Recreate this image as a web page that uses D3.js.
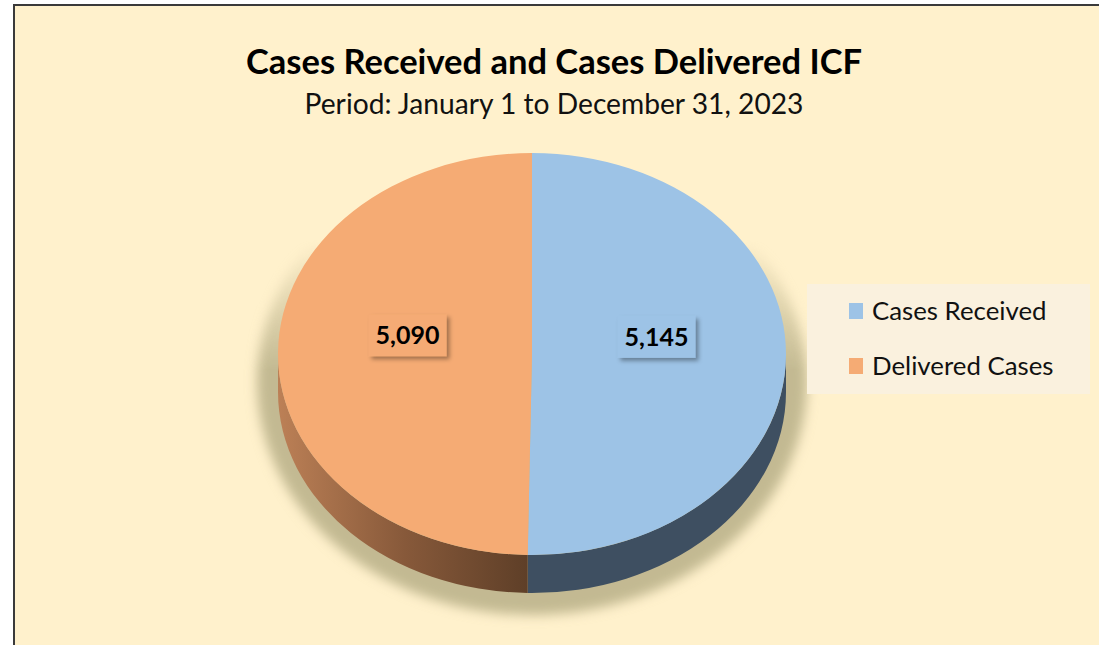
<!DOCTYPE html>
<html>
<head>
<meta charset="utf-8">
<script src="https://cdn.jsdelivr.net/npm/d3@7"></script>
<style>
  body { margin: 0; background: #fff; }
  svg text { font-family: Lato, "Open Sans", sans-serif; }
</style>
</head>
<body>
<svg id="chart" width="1099" height="645"></svg>
<script>
const categories = ["Cases Received", "Delivered Cases"];
const values = [5145, 5090];
const titleText = "Cases Received and Cases Delivered ICF";
const subtitleText = "Period: January 1 to December 31, 2023";

const svg = d3.select("#chart");
const topColor = d3.scaleOrdinal().domain(categories).range(["#9DC3E6", "#F5AB74"]);

// pie geometry (ellipse seen in 3d)
const cx = 532, cy = 354, rx = 254, ry = 201, depth = 38;
const pt = (a, dy = 0) => [cx + rx * Math.sin(a), cy - ry * Math.cos(a) + dy];

const defs = svg.append("defs");

const blur = defs.append("filter").attr("id", "blur")
    .attr("x", "-20%").attr("y", "-20%").attr("width", "140%").attr("height", "140%");
blur.append("feGaussianBlur").attr("stdDeviation", 6);

const fade = defs.append("linearGradient").attr("id", "fade")
    .attr("gradientUnits", "userSpaceOnUse")
    .attr("x1", 0).attr("y1", 240).attr("x2", 0).attr("y2", 370);
fade.append("stop").attr("offset", 0).attr("stop-color", "#fff").attr("stop-opacity", 0);
fade.append("stop").attr("offset", 1).attr("stop-color", "#fff").attr("stop-opacity", 1);
defs.append("mask").attr("id", "fadeMask")
    .append("rect").attr("width", 1099).attr("height", 645).attr("fill", "url(#fade)");

const sideOrange = defs.append("linearGradient").attr("id", "sideOrange")
    .attr("gradientUnits", "userSpaceOnUse")
    .attr("x1", cx - rx).attr("y1", 0).attr("x2", cx).attr("y2", 0);
sideOrange.append("stop").attr("offset", 0).attr("stop-color", "#BC8056");
sideOrange.append("stop").attr("offset", 0.5).attr("stop-color", "#87593A");
sideOrange.append("stop").attr("offset", 1).attr("stop-color", "#5D3E27");

const boxShadow = defs.append("filter").attr("id", "boxShadow")
    .attr("x", "-20%").attr("y", "-30%").attr("width", "150%").attr("height", "170%");
boxShadow.append("feDropShadow").attr("dx", 3).attr("dy", 3)
    .attr("stdDeviation", 2).attr("flood-color", "#000").attr("flood-opacity", 0.35);

// background + frame
svg.append("rect").attr("x", 14).attr("y", 5).attr("width", 1100).attr("height", 660)
    .attr("fill", "#FFF1CC").attr("stroke", "#3a3a3a").attr("stroke-width", 2);

// titles
svg.append("text").attr("x", 554).attr("y", 74).attr("text-anchor", "middle")
    .attr("font-size", 34.5).attr("font-weight", 700).attr("fill", "#000").text(titleText);
svg.append("text").attr("x", 554).attr("y", 114).attr("text-anchor", "middle")
    .attr("font-size", 28.2).attr("fill", "#111").text(subtitleText);

// shadow under pie
svg.append("ellipse").attr("cx", cx).attr("cy", cy + 28).attr("rx", rx + 21).attr("ry", ry + 32)
    .attr("fill", "#C3B992").attr("filter", "url(#blur)").attr("mask", "url(#fadeMask)");

const pie = d3.pie().sort(null).value(d => d.value).startAngle(0).endAngle(2 * Math.PI);
const arcs = pie(categories.map((c, i) => ({ name: c, value: values[i] })));

// visible side walls (front half: pi/2 .. 3pi/2)
const sideFill = ["#3E4F61", "url(#sideOrange)"];
arcs.forEach((d, i) => {
    const b0 = Math.max(d.startAngle, Math.PI / 2);
    const b1 = Math.min(d.endAngle, 3 * Math.PI / 2);
    if (b1 <= b0) return;
    const p0 = pt(b0), p1 = pt(b1), q0 = pt(b0, depth), q1 = pt(b1, depth);
    const path = `M${p0}A${rx},${ry} 0 0 1 ${p1}L${q1}A${rx},${ry} 0 0 0 ${q0}Z`;
    svg.append("path").attr("d", path).attr("fill", sideFill[i]);
});

// top faces
svg.selectAll("path.top").data(arcs).enter().append("path")
    .attr("class", "top")
    .attr("d", d => {
        const p0 = pt(d.startAngle), p1 = pt(d.endAngle);
        const large = d.endAngle - d.startAngle > Math.PI ? 1 : 0;
        return `M${cx},${cy}L${p0}A${rx},${ry} 0 ${large} 1 ${p1}Z`;
    })
    .attr("fill", d => topColor(d.data.name));

// data labels
const fmt = d3.format(",");
const labels = svg.selectAll("g.label").data(arcs).enter().append("g")
    .attr("class", "label")
    .attr("transform", d => {
        const m = (d.startAngle + d.endAngle) / 2;
        return `translate(${cx + 0.49 * rx * Math.sin(m)},${cy - 0.49 * ry * Math.cos(m) - 18})`;
    });
labels.append("rect").attr("x", -39).attr("y", -21).attr("width", 78).attr("height", 42)
    .attr("fill", d => topColor(d.data.name)).attr("filter", "url(#boxShadow)");
labels.append("text").attr("text-anchor", "middle").attr("dy", "0.35em")
    .attr("font-size", 25).attr("font-weight", 700).attr("fill", "#000")
    .text(d => fmt(d.data.value));

// legend
const legend = svg.append("g").attr("transform", "translate(807,284)");
legend.append("rect").attr("width", 283).attr("height", 110).attr("fill", "#FAF1DE");
const rows = legend.selectAll("g").data(categories).enter().append("g")
    .attr("transform", (d, i) => `translate(0,${27 + i * 55})`);
rows.append("rect").attr("x", 42).attr("y", -8).attr("width", 14).attr("height", 16)
    .attr("fill", d => topColor(d));
rows.append("text").attr("x", 65).attr("y", 9).attr("font-size", 25.8).attr("fill", "#111")
    .text(d => d);
</script>
</body>
</html>
